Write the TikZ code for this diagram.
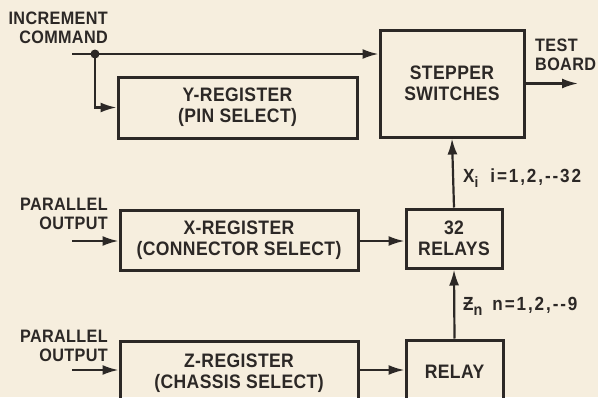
\documentclass[tikz,border=0pt]{standalone}
\usepackage{fontspec}
\setmainfont{Liberation Sans}
\newfontfamily\boxfont{Liberation Sans}[FakeStretch=0.9,LetterSpace=2]
\newfontfamily\indexfont{Liberation Sans}[FakeStretch=0.9,LetterSpace=10]
\usepackage{tikz}
\usetikzlibrary{calc,arrows.meta,positioning}
\usepackage{xcolor}
\definecolor{scanpaper}{RGB}{246,238,222}
\definecolor{scanink}{RGB}{44,40,38}

\begin{document}
\begin{tikzpicture}[x=1pt,y=-1pt,
    blockbox/.style={draw=scanink,line width=3pt,inner sep=0pt,align=center,
      font=\boxfont\bfseries\fontsize{19.5}{21}\selectfont,text=scanink},
    flow/.style={draw=scanink,line width=2.2pt,-{Latex[length=16pt,width=10pt]}},
    sidelabel/.style={font=\boxfont\bfseries\fontsize{18}{19}\selectfont,text=scanink,inner sep=0pt},
    indexlabel/.style={font=\indexfont\bfseries\fontsize{19}{19}\selectfont,text=scanink,inner sep=0pt}]
  \fill[scanpaper] (0,0) rectangle (598,397);
  \useasboundingbox (0,0) rectangle (598,397);

  \node[blockbox,minimum width=144pt,minimum height=107pt] (stepper) at (452,83.5) {STEPPER\\SWITCHES};
  \node[blockbox,minimum width=239pt,minimum height=61pt] (yreg) at (237.5,107.5) {Y-REGISTER\\(PIN SELECT)};
  \node[blockbox,minimum width=238pt,minimum height=60pt] (xreg) at (239,240) {X-REGISTER\\(CONNECTOR SELECT)};
  \node[blockbox,minimum width=96pt,minimum height=59pt] (relays) at (454,238.5) {32\\RELAYS};
  \node[blockbox,minimum width=238pt,minimum height=64pt] (zreg) at (239,373) {Z-REGISTER\\(CHASSIS SELECT)};
  \node[blockbox,minimum width=97pt,minimum height=64pt] (relay) at (454.5,372) {RELAY};

  \coordinate (incin) at (72,54);
  \coordinate (junc) at (95,54);
  \coordinate (xin) at (72,241);
  \coordinate (zin) at (72,370);
  \coordinate (board) at (578,83.5);

  \draw[flow] (incin) -- (stepper.west |- incin);
  \draw[flow] (junc) |- (yreg.west);
  \fill[scanink] (junc) circle (4.5pt);
  \draw[flow] (stepper.east) -- (board);
  \draw[flow] (xin) -- (xreg.west |- xin);
  \draw[flow] (xreg.east |- xin) -- (relays.west |- xin);
  \draw[flow] (zin) -- (zreg.west |- zin);
  \draw[flow] (zreg.east |- zin) -- (relay.west |- zin);
  \draw[flow] (relay.north) -- (relays.south);
  \draw[flow] (relays.north) -- (stepper.south);

  \node[sidelabel,align=right,anchor=north east] (inclabel) at (108,12) {INCREMENT\\COMMAND};
  \node[sidelabel,align=right,anchor=north east] (xlabel) at (108,198) {PARALLEL\\OUTPUT};
  \node[sidelabel,align=right,anchor=north east] (zlabel) at (108,330) {PARALLEL\\OUTPUT};
  \node[sidelabel,align=left,anchor=north west] (boardlabel) at (535,39) {TEST\\BOARD};
  \node[indexlabel,anchor=base west] (xilabel) at (463,182)
    {X\raisebox{-5pt}{\fontsize{15}{15}\selectfont i}\hspace{12pt}i=1,2,-{}-32};
  \node[indexlabel,anchor=base west] (znlabel) at (463,310)
    {Ƶ\raisebox{-5pt}{\fontsize{16}{16}\selectfont n}\hspace{10pt}n=1,2,-{}-9};
\end{tikzpicture}
\end{document}
